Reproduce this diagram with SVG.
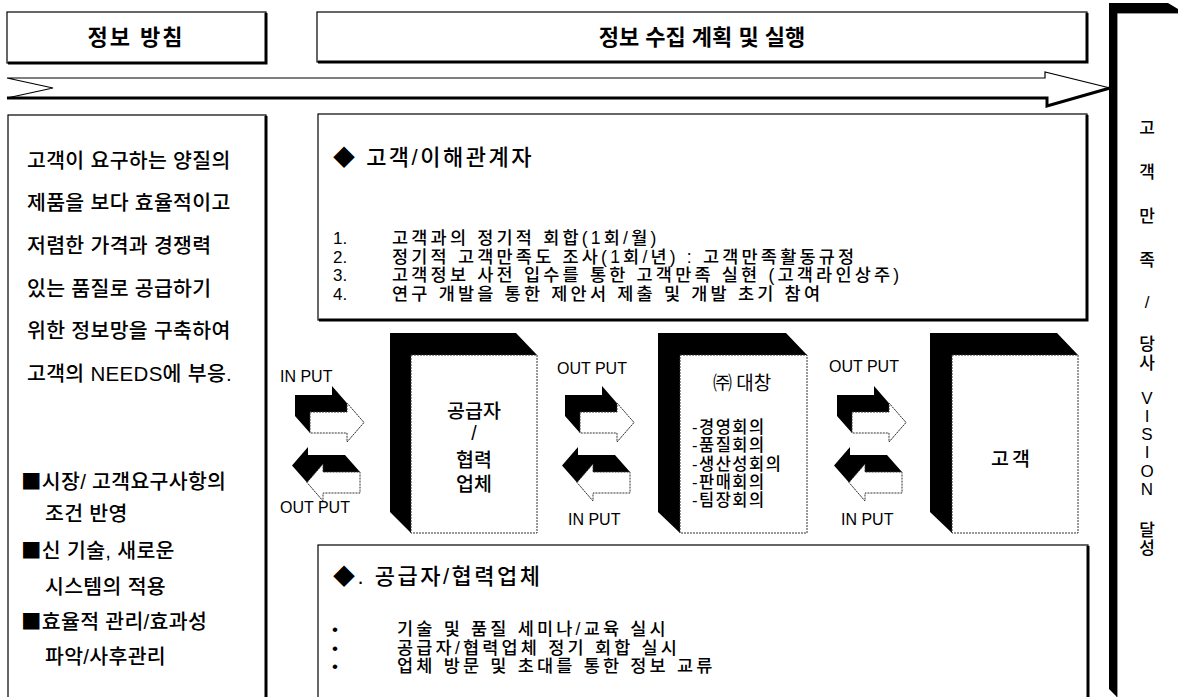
<svg xmlns="http://www.w3.org/2000/svg" xmlns:xlink="http://www.w3.org/1999/xlink" width="1178" height="697" viewBox="0 0 1178 697">
<style>
text{font-family:"Liberation Sans","Noto Sans CJK KR",sans-serif;fill:#000}
.cjk{font-family:"Noto Sans CJK KR",sans-serif}
.thin{fill:#fff;stroke:#000;stroke-width:1.2}
.line{fill:none;stroke:#000;stroke-width:1.2}
.shadow{fill:none;stroke:#000;stroke-width:3}
.face{fill:#fff;stroke:#333;stroke-width:1;stroke-dasharray:2 1}
.blk{fill:#000;stroke:none}
.lbl{font-size:16px}
.body{font-size:20.5px;letter-spacing:0.3px;font-weight:500}
.item{font-size:17.5px;letter-spacing:3.2px;font-weight:500}
.num{font-size:17px}
.ttl{font-size:22px;letter-spacing:2.5px;font-weight:500}
.hdr{font-size:22px;font-weight:bold;text-anchor:middle}
.vt{font-size:17px;text-anchor:middle;font-weight:500}
.box{font-size:19.5px;text-anchor:middle;font-weight:500}
.lst{font-size:16.5px;letter-spacing:1.5px;font-weight:500}
</style>
<defs>
<g id="arrowRight">
<polygon class="blk" points="295,416 295,395 332,395 332,386 349,405.5 364,422.5 347,442 347,433 310,433"/>
<polygon class="face" points="310,412 347,412 347,403 364,422.5 347,442 347,433 310,433"/>
</g>
<g id="arrowLeft">
<polygon class="blk" points="292,465.5 308,447 308,455 345,455 360,472 360,493 323,493 323,501 307,482.5"/>
<polygon class="face" points="307,482.5 323,464 323,472 360,472 360,493 323,493 323,501"/>
</g>
</defs>
<rect width="1178" height="697" fill="#fff"/>

<g id="header-policy">
<rect class="thin" x="7" y="12" width="259" height="51"/>
<path class="shadow" d="M266,13 V63 H8"/>
<text class="hdr" x="136" y="45" letter-spacing="2">정보 방침</text>
</g>

<g id="header-plan">
<rect class="thin" x="317" y="12" width="770" height="50"/>
<path class="shadow" d="M1087,13 V62 H318"/>
<text class="hdr" x="702" y="45">정보 수집 계획 및 실행</text>
</g>

<g id="flow-arrow">
<polygon class="line" points="7,78 1045,78 1045,72 1110,88 1047,106 1047,98 7,98 53,88"/>
<path class="shadow" d="M7,98 H1047 V106 L1110,88"/>
</g>

<g id="vision-box">
<rect x="1117" y="13" width="70" height="700" fill="#fff" stroke="#333" stroke-width="1"/>
<polygon class="blk" points="1109,3 1168,3 1178,9 1178,13 1117,13 1117,697 1109,689"/>
<text class="vt" x="1147" y="134">고</text>
<text class="vt" x="1147" y="178">객</text>
<text class="vt" x="1147" y="222">만</text>
<text class="vt" x="1147" y="266">족</text>
<text class="vt" x="1147" y="308">/</text>
<text class="vt" x="1147" y="350">당</text>
<text class="vt" x="1147" y="369">사</text>
<text class="vt" x="1147" y="404">V</text>
<text class="vt" x="1147" y="422">I</text>
<text class="vt" x="1147" y="440">S</text>
<text class="vt" x="1147" y="458">I</text>
<text class="vt" x="1147" y="477">O</text>
<text class="vt" x="1147" y="495">N</text>
<text class="vt" x="1147" y="536">달</text>
<text class="vt" x="1147" y="554">성</text>
</g>

<g id="policy-panel">
<rect class="thin" x="8" y="115" width="258" height="600"/>
<path class="shadow" d="M266,116 V697"/>
<text class="body" x="27" y="168">고객이 요구하는 양질의</text>
<text class="body" x="27" y="210">제품을 보다 효율적이고</text>
<text class="body" x="27" y="253">저렴한 가격과 경쟁력</text>
<text class="body" x="27" y="296">있는 품질로 공급하기</text>
<text class="body" x="27" y="338">위한 정보망을 구축하여</text>
<text class="body" x="27" y="381">고객의 NEEDS에 부응.</text>
<text class="body" x="21" y="489" letter-spacing="0"><tspan class="cjk">■</tspan>시장/ 고객요구사항의</text>
<text class="body" x="45" y="521">조건 반영</text>
<text class="body" x="21" y="558" letter-spacing="0"><tspan class="cjk">■</tspan>신 기술, 새로운</text>
<text class="body" x="45" y="594">시스템의 적용</text>
<text class="body" x="21" y="629" letter-spacing="0"><tspan class="cjk">■</tspan>효율적 관리/효과성</text>
<text class="body" x="45" y="664">파악/사후관리</text>
</g>

<g id="customer-box">
<rect class="thin" x="318" y="114" width="769" height="206"/>
<path class="shadow" d="M1087,115 V320 H319"/>
<text class="ttl" x="333" y="165"><tspan class="cjk">◆</tspan> 고객/이해관계자</text>
<text class="num" x="333" y="244">1.</text>
<text class="item" x="392" y="244">고객과의 정기적 회합(1회/월)</text>
<text class="num" x="333" y="262.5">2.</text>
<text class="item" x="392" y="262.5">정기적 고객만족도 조사(1회/년) : 고객만족활동규정</text>
<text class="num" x="333" y="281">3.</text>
<text class="item" x="392" y="281">고객정보 사전 입수를 통한 고객만족 실현 (고객라인상주)</text>
<text class="num" x="333" y="300">4.</text>
<text class="item" x="392" y="300">연구 개발을 통한 제안서 제출 및 개발 초기 참여</text>
</g>

<g id="supplier-box">
<rect class="thin" x="318" y="545" width="770" height="170"/>
<path class="shadow" d="M1088,546 V697"/>
<text class="ttl" x="333" y="584"><tspan class="cjk">◆</tspan>. 공급자/협력업체</text>
<text class="num" x="332" y="635">•</text>
<text class="item" x="397" y="635">기술 및 품질 세미나/교육 실시</text>
<text class="num" x="332" y="653.5">•</text>
<text class="item" x="397" y="653.5">공급자/협력업체 정기 회합 실시</text>
<text class="num" x="332" y="672">•</text>
<text class="item" x="397" y="672">업체 방문 및 초대를 통한 정보 교류</text>
</g>

<g id="node-supplier">
<polygon class="blk" points="390,333 516,333 537,355 411,355 411,533 390,512"/>
<rect class="face" x="411" y="355" width="126" height="178"/>
<text class="box" x="474" y="418">공급자</text>
<text class="box" x="474" y="440">/</text>
<text class="box" x="474" y="467">협력</text>
<text class="box" x="474" y="491">업체</text>
</g>

<g id="node-daechang">
<polygon class="blk" points="658,333 786,333 807,355 680,355 680,533 658,512"/>
<rect class="face" x="680" y="355" width="127" height="178"/>
<text x="742" y="390" font-size="19" text-anchor="middle" class="cjk">㈜ 대창</text>
<text class="lst" x="692" y="433">-경영회의</text>
<text class="lst" x="692" y="451">-품질회의</text>
<text class="lst" x="692" y="469.5">-생산성회의</text>
<text class="lst" x="692" y="487.5">-판매회의</text>
<text class="lst" x="692" y="505.5">-팀장회의</text>
</g>

<g id="node-customer">
<polygon class="blk" points="930,333 1057,333 1078,355 952,355 952,533 930,512"/>
<rect class="face" x="952" y="355" width="126" height="178"/>
<text class="box" x="1012" y="466" letter-spacing="3">고객</text>
</g>

<g id="connectors">
<use xlink:href="#arrowRight" href="#arrowRight"/>
<use xlink:href="#arrowLeft" href="#arrowLeft"/>
<use xlink:href="#arrowRight" href="#arrowRight" x="270"/>
<use xlink:href="#arrowLeft" href="#arrowLeft" x="270"/>
<use xlink:href="#arrowRight" href="#arrowRight" x="542"/>
<use xlink:href="#arrowLeft" href="#arrowLeft" x="542"/>
<text class="lbl" x="280" y="382">IN PUT</text>
<text class="lbl" x="280" y="513">OUT PUT</text>
<text class="lbl" x="557" y="374">OUT PUT</text>
<text class="lbl" x="568" y="525">IN PUT</text>
<text class="lbl" x="829" y="372">OUT PUT</text>
<text class="lbl" x="841" y="525">IN PUT</text>
</g>
</svg>
